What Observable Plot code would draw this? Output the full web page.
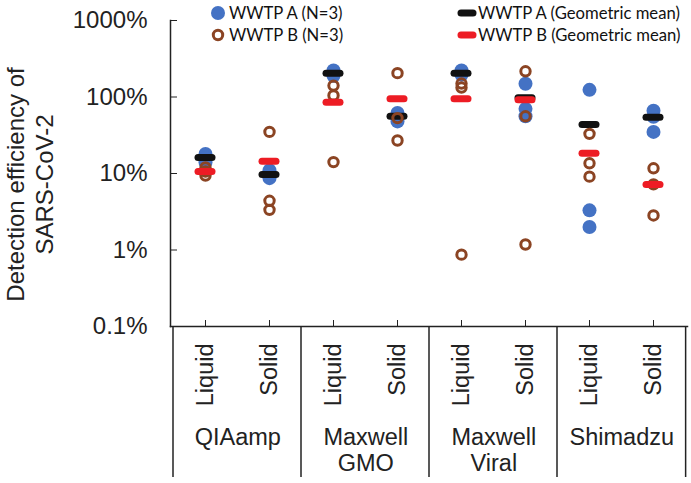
<!DOCTYPE html>
<html><head><meta charset="utf-8">
<script src="https://cdn.jsdelivr.net/npm/d3@7"></script>
<script src="https://cdn.jsdelivr.net/npm/@observablehq/plot@0.6"></script>
<style>body{margin:0;background:#fff}</style>
</head><body><div id="chart"></div>
<script>
const methods = ["QIAamp", "Maxwell\nGMO", "Maxwell\nViral", "Shimadzu"];
const phases = ["Liquid", "Solid"];
const yTicks = [0.1, 1, 10, 100, 1000];
// values in percent, order: QIAamp L, QIAamp S, GMO L, GMO S, Viral L, Viral S, Shimadzu L, Shimadzu S
const wwtpA = [[18, 16, 14], [11, 9.5, 8.7], [222, 205, 190], [62, 55, 48], [222, 210, 195], [149, 70, 56], [124, 3.3, 2.0], [66, 55, 35]];
const wwtpB = [[12, 10.6, 9.4], [35, 4.4, 3.35], [141, 105, 14.1], [205, 53, 27], [150, 133, 0.87], [217, 56, 1.18], [33, 13.6, 9.1], [11.7, 7.2, 2.83]];
const meanA = [16.2, 9.7, 205, 56, 205, 98, 43.7, 54.5];
const meanB = [10.6, 14.5, 85.5, 94.6, 94.6, 91.8, 18.4, 7.2];

const colA = "#4472c4", colB = "#8b4423", colMeanA = "#111111", colMeanB = "#ed1c24";

const cats = [];
methods.forEach(m => phases.forEach(p => cats.push(m + "|" + p)));
const pts = (arr) => arr.flatMap((vals, i) => vals.map(v => ({cat: cats[i], v})));
const ptsA = pts(wwtpA), ptsB = pts(wwtpB);
const mA = meanA.map((v, i) => ({cat: cats[i], v}));
const mB = meanB.map((v, i) => ({cat: cats[i], v}));
const groups = methods.map(m => ({cat: m + "|" + phases[0], label: m}));

const W = 691, H = 483, mL = 170, mR = 4, mT = 20, mB_ = 157;
const bw = (W - mL - mR) / cats.length;
const FS = 24, FSX = 23.5;

const plot = Plot.plot({
  width: W, height: H,
  marginLeft: mL, marginRight: mR, marginTop: mT, marginBottom: mB_,
  style: {fontFamily: "'Liberation Sans', Arial, sans-serif", fontSize: FS + "px", color: "#222", background: "white"},
  x: {type: "band", domain: cats, padding: 0},
  y: {type: "log", domain: [0.1, 1000]},
  marks: [
    Plot.axisY({ticks: yTicks, tickFormat: d => d + "%", tickSize: -7, tickPadding: 30, label: null, fontSize: FS}),
    Plot.axisX({tickSize: -6, tickRotate: -90, tickPadding: 23, tickFormat: k => k.split("|")[1], label: null, fontSize: FSX}),
    Plot.frame({anchor: "left", stroke: "#222", strokeWidth: 1.5}),
    Plot.frame({anchor: "bottom", stroke: "#222", strokeWidth: 1.5}),
    Plot.text(["Detection efficiency of\nSARS-CoV-2"], {frameAnchor: "left", textAnchor: "middle", rotate: -90, dx: -141, dy: 11, lineAnchor: "middle", lineHeight: 1.17, fontSize: FS, fill: "#222"}),
    Plot.text(groups, {x: "cat", text: "label", frameAnchor: "bottom", dx: bw / 2, dy: 100, lineAnchor: "top", lineHeight: 1.1, fontSize: FSX, fill: "#222"}),
    Plot.dot(ptsA, {x: "cat", y: "v", r: 7, fill: colA, stroke: "none"}),
    Plot.tickY(mA, {x: "cat", y: "v", stroke: colMeanA, strokeWidth: 7, strokeLinecap: "round", insetLeft: 25, insetRight: 25}),
    Plot.dot(ptsB, {x: "cat", y: "v", r: 4.7, fill: "none", stroke: colB, strokeWidth: 3}),
    Plot.tickY(mB, {x: "cat", y: "v", stroke: colMeanB, strokeWidth: 7, strokeLinecap: "round", insetLeft: 25, insetRight: 25})
  ]
});
document.getElementById("chart").appendChild(plot);

// group separators below the axis, computed from the x scale
const xs = plot.scale("x");
const svg = d3.select(plot);
const yBottom = H - mB_;
const seps = methods.map(m => xs.apply(m + "|" + phases[0])).concat([xs.apply(cats[cats.length - 1]) + bw]);
svg.append("g").selectAll("line").data(seps).join("line")
  .attr("x1", d => d).attr("x2", d => d)
  .attr("y1", yBottom).attr("y2", H - 6)
  .attr("stroke", "#222").attr("stroke-width", 1.5);

// legend
const lg = svg.append("g")
  .style("font-family", "Lato, 'Open Sans', sans-serif").style("font-size", "17px")
  .attr("text-anchor", "start").attr("fill", "#111");
const legend = [
  {x: 218, y: 13, type: "dotA", label: "WWTP A (N=3)"},
  {x: 218, y: 35, type: "dotB", label: "WWTP B (N=3)"},
  {x: 467, y: 13, type: "meanA", label: "WWTP A (Geometric mean)"},
  {x: 467, y: 35, type: "meanB", label: "WWTP B (Geometric mean)"}
];
const texts = [];
legend.forEach(d => {
  if (d.type === "dotA") lg.append("circle").attr("cx", d.x).attr("cy", d.y).attr("r", 7).attr("fill", colA);
  else if (d.type === "dotB") lg.append("circle").attr("cx", d.x).attr("cy", d.y).attr("r", 4.7).attr("fill", "none").attr("stroke", colB).attr("stroke-width", 3);
  else lg.append("line").attr("x1", d.x - 6).attr("x2", d.x + 6).attr("y1", d.y).attr("y2", d.y)
    .attr("stroke", d.type === "meanA" ? colMeanA : colMeanB).attr("stroke-width", 7).attr("stroke-linecap", "round");
  texts.push(lg.append("text").attr("x", d.x + 11).attr("y", d.y).attr("dy", "0.35em").attr("text-anchor", "start").text(d.label));
});
// fit legend font so the longest entry spans about 203px as in the reference
try {
  const len = texts[2].node().getComputedTextLength();
  if (len > 0) lg.style("font-size", Math.min(18, 17 * 202 / len).toFixed(2) + "px");
} catch (e) {}
</script></body></html>
